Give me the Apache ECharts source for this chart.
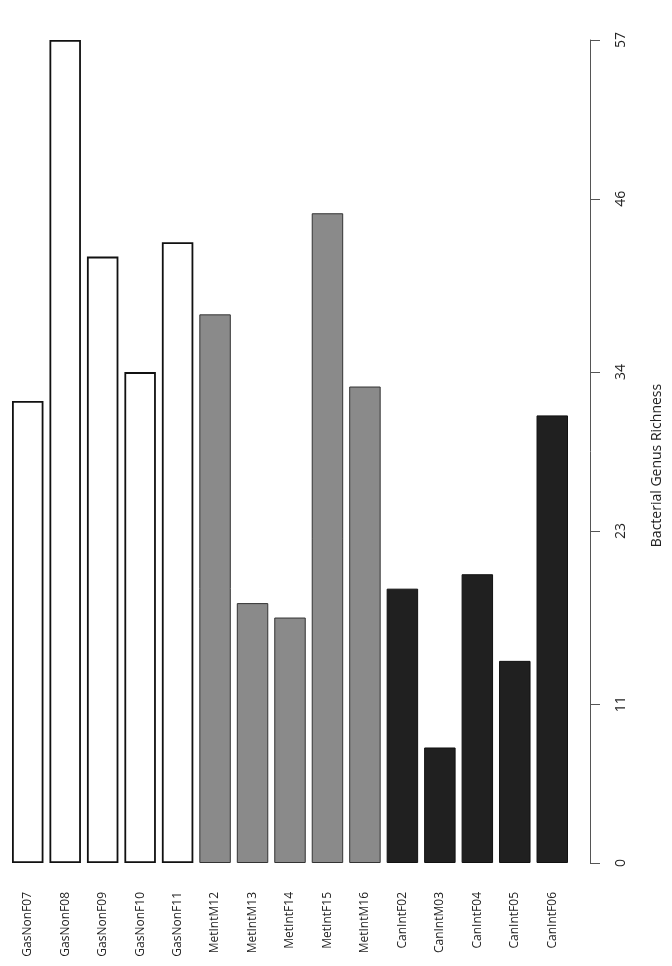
<!DOCTYPE html>
<html>
<head>
<meta charset="utf-8">
<script src="https://cdn.jsdelivr.net/npm/echarts@6/dist/echarts.min.js"></script>
<style>html,body{margin:0;padding:0;background:#fff}#c{width:672px;height:966px}</style>
</head>
<body>
<div id="c"></div>
<script>
const categories = ['GasNonF07','GasNonF08','GasNonF09','GasNonF10','GasNonF11','MetIntM12','MetIntM13','MetIntF14','MetIntF15','MetIntM16','CanIntF02','CanIntM03','CanIntF04','CanIntF05','CanIntF06'];
const richness = [32,57,42,34,43,38,18,17,45,33,19,8,20,14,31];
const groupOf = [0,0,0,0,0,1,1,1,1,1,2,2,2,2,2];
const tickValues = [0,11,23,34,46,57];
const groupFill = ['#ffffff','#8a8a8a','#202020'];
const groupBorder = ['#111111','#333333','#111111'];
const groupBorderWidth = [1.8,1,1];

const chart = echarts.init(document.getElementById('c'));
chart.setOption({
  animation:false,
  backgroundColor:'#fff',
  grid:{left:9,right:100,top:40,bottom:103,containLabel:false},
  xAxis:{
    type:'category', data:categories,
    axisLine:{show:false}, axisTick:{show:false},
    axisLabel:{rotate:90, margin:29, fontSize:12, color:'#222', fontFamily:'Open Sans', interval:0}
  },
  yAxis:{
    type:'value', position:'right', offset:19, min:0, max:57,
    splitLine:{show:false},
    axisLine:{show:true, lineStyle:{color:'#555', width:1}},
    axisTick:{show:true, length:10, lineStyle:{color:'#555'}, customValues:tickValues},
    axisLabel:{rotate:90, margin:24, fontSize:14, color:'#222', fontFamily:'Open Sans', customValues:tickValues},
    name:'Bacterial Genus Richness', nameLocation:'middle', nameGap:60,
    nameTextStyle:{fontSize:14, color:'#222', fontFamily:'Open Sans', padding:[0,28,0,0]}
  },
  series:[{
    type:'bar', barWidth:'84%',
    data:richness.map((v,i)=>({value:v, itemStyle:{color:groupFill[groupOf[i]], borderColor:groupBorder[groupOf[i]], borderWidth:groupBorderWidth[groupOf[i]]}}))
  }]
});
</script>
</body>
</html>
